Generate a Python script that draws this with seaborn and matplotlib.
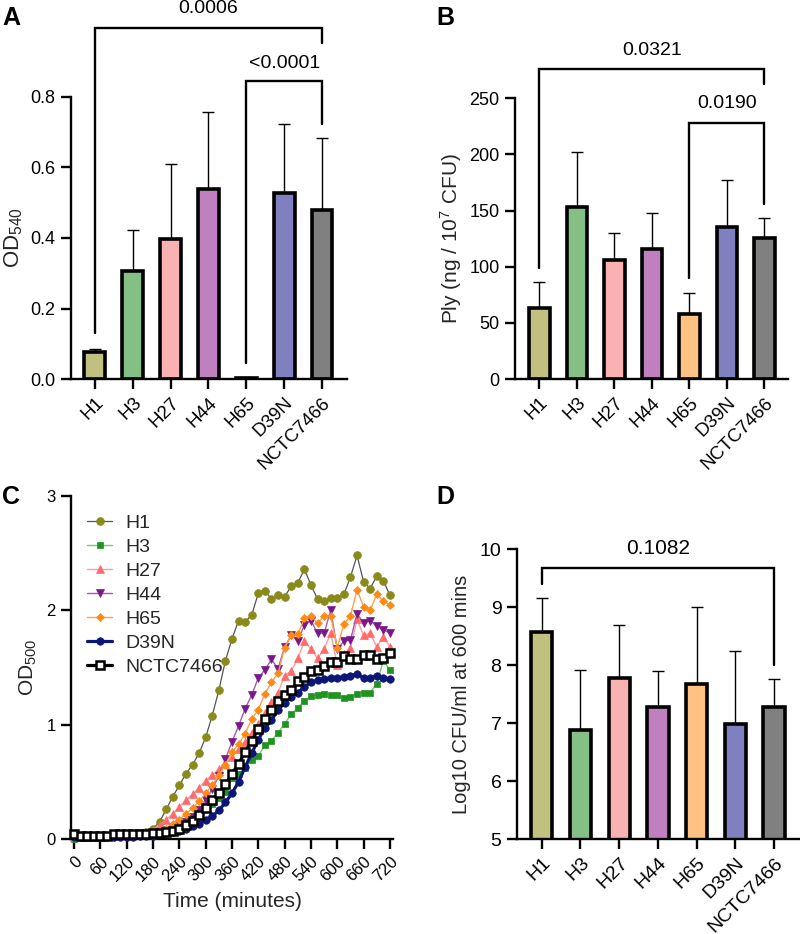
import numpy as np
import pandas as pd
import matplotlib
matplotlib.use("Agg")
import matplotlib.pyplot as plt
import seaborn as sns

# ---------------- data ----------------
strains = ["H1", "H3", "H27", "H44", "H65", "D39N", "NCTC7466"]
bar_colors = ["#c0c080", "#84c084", "#f9b1b1", "#c080c0", "#ffc283", "#8080c0", "#808080"]

od540_mean = [0.076, 0.305, 0.398, 0.538, 0.003, 0.527, 0.479]
od540_sd = [0.010, 0.117, 0.212, 0.220, 0.002, 0.195, 0.206]

ply_mean = [63, 153, 106, 116, 58, 135, 126]
ply_sd = [23, 49, 24, 32, 19, 42, 17]

cfu_mean = [8.58, 6.88, 7.78, 7.28, 7.68, 6.98, 7.28]
cfu_sd = [0.58, 1.03, 0.92, 0.62, 1.32, 1.27, 0.48]

time_min = list(range(0, 721, 15))

h1_od = [0.03, 0.03, 0.03, 0.03, 0.03, 0.03, 0.03, 0.04, 0.04, 0.04, 0.05, 0.06, 0.09,
         0.15, 0.26, 0.37, 0.47, 0.57, 0.65, 0.75, 0.89, 1.08, 1.30, 1.56, 1.75, 1.91,
         1.90, 1.96, 2.15, 2.17, 2.10, 2.13, 2.12, 2.21, 2.24, 2.36, 2.22, 2.10, 2.08,
         2.11, 2.11, 2.14, 2.29, 2.48, 2.25, 2.19, 2.30, 2.26, 2.13]
h3_od = [0.00, 0.01, 0.01, 0.02, 0.02, 0.02, 0.02, 0.03, 0.03, 0.03, 0.04, 0.05, 0.06,
         0.08, 0.09, 0.11, 0.13, 0.15, 0.17, 0.21, 0.27, 0.31, 0.36, 0.41, 0.53, 0.57,
         0.62, 0.69, 0.73, 0.82, 0.86, 0.93, 1.01, 1.09, 1.15, 1.21, 1.25, 1.26, 1.27,
         1.26, 1.26, 1.23, 1.24, 1.27, 1.28, 1.28, 1.36, 1.56, 1.48]
h27_od = [0.02, 0.02, 0.02, 0.02, 0.02, 0.03, 0.03, 0.03, 0.03, 0.04, 0.04, 0.05, 0.08,
          0.12, 0.17, 0.22, 0.28, 0.34, 0.39, 0.45, 0.51, 0.56, 0.61, 0.66, 0.72, 0.79,
          0.85, 0.93, 1.01, 1.10, 1.20, 1.28, 1.43, 1.47, 1.58, 1.73, 1.66, 1.58, 1.66,
          1.80, 1.52, 1.62, 1.67, 1.92, 1.78, 1.80, 1.68, 1.77, 1.68]
h44_od = [0.02, 0.02, 0.02, 0.02, 0.02, 0.02, 0.02, 0.03, 0.03, 0.03, 0.03, 0.04, 0.05,
          0.06, 0.07, 0.09, 0.12, 0.15, 0.19, 0.25, 0.34, 0.44, 0.55, 0.70, 0.85, 0.99,
          1.14, 1.26, 1.41, 1.48, 1.57, 1.49, 1.68, 1.78, 1.735, 1.87, 1.91, 1.80, 1.80,
          2.00, 1.66, 1.73, 1.74, 1.97, 1.89, 1.91, 1.86, 1.83, 1.80]
h65_od = [0.02, 0.02, 0.02, 0.02, 0.02, 0.02, 0.02, 0.03, 0.03, 0.03, 0.04, 0.05, 0.06,
          0.07, 0.09, 0.13, 0.17, 0.22, 0.27, 0.33, 0.40, 0.47, 0.56, 0.65, 0.76, 0.83,
          0.92, 1.05, 1.13, 1.27, 1.37, 1.45, 1.67, 1.78, 1.79, 1.93, 1.95, 1.89, 1.95,
          1.95, 1.67, 1.88, 1.95, 2.18, 2.03, 2.00, 2.14, 2.08, 2.05]
d39n_od = [0.02, 0.02, 0.02, 0.02, 0.02, 0.02, 0.02, 0.02, 0.02, 0.02, 0.03, 0.03, 0.03,
           0.04, 0.05, 0.06, 0.07, 0.09, 0.11, 0.13, 0.17, 0.20, 0.25, 0.32, 0.40, 0.50,
           0.63, 0.75, 0.87, 0.97, 1.04, 1.13, 1.19, 1.245, 1.28, 1.33, 1.37, 1.39, 1.40,
           1.41, 1.41, 1.42, 1.43, 1.44, 1.41, 1.41, 1.43, 1.41, 1.40]
nctc_od = [0.04, 0.03, 0.03, 0.03, 0.03, 0.03, 0.04, 0.04, 0.04, 0.04, 0.04, 0.04, 0.05,
           0.05, 0.06, 0.07, 0.09, 0.12, 0.16, 0.21, 0.27, 0.34, 0.40, 0.48, 0.57, 0.66,
           0.76, 0.86, 0.96, 1.05, 1.13, 1.21, 1.26, 1.30, 1.38, 1.42, 1.47, 1.48, 1.51,
           1.545, 1.55, 1.60, 1.575, 1.575, 1.61, 1.61, 1.57, 1.58, 1.63]

# ---------------- style ----------------
sns.set_theme(style="ticks")
plt.rcParams["font.family"] = ["Liberation Sans", "DejaVu Sans"]
plt.rcParams["mathtext.fontset"] = "custom"
plt.rcParams["mathtext.rm"] = "Liberation Sans"
plt.rcParams["mathtext.it"] = "Liberation Sans:italic"
plt.rcParams["mathtext.bf"] = "Liberation Sans:bold"

SPINE = 1.7
W, H = 800, 934

fig = plt.figure(figsize=(8, 9.34), dpi=100)
axA = fig.add_axes([71 / W, 1 - 379 / H, 276 / W, 282 / H])
axB = fig.add_axes([515 / W, 1 - 379 / H, 273 / W, 280.7 / H])
axC = fig.add_axes([71 / W, 1 - 839 / H, 322 / W, 343 / H])
axD = fig.add_axes([516.7 / W, 1 - 839 / H, 283.3 / W, 289.7 / H])


def style_axes(ax, fsx, fsy):
    sns.despine(ax=ax)
    for s in ("left", "bottom"):
        ax.spines[s].set_linewidth(SPINE)
        ax.spines[s].set_color("black")
    ax.tick_params(axis="both", width=SPINE, length=7.5, colors="black")
    ax.tick_params(axis="x", labelsize=fsx)
    ax.tick_params(axis="y", labelsize=fsy)


def bar_panel(ax, means, sds, ylim, yticks, fsx, fsy, xlim):
    df = pd.DataFrame({"strain": strains, "value": means})
    sns.barplot(data=df, x="strain", y="value", hue="strain",
                palette=dict(zip(strains, bar_colors)), dodge=False, legend=False,
                width=0.55, edgecolor="black", linewidth=2.6, errorbar=None,
                saturation=1, ax=ax)
    ax.errorbar(range(len(strains)), means,
                yerr=[np.zeros(len(strains)), sds], fmt="none", ecolor="black",
                elinewidth=1.0, capsize=4.5, capthick=1.0, zorder=0.5)
    ax.set_ylim(*ylim)
    ax.set_yticks(yticks)
    ax.set_xlim(*xlim)
    ax.set_xlabel("")
    style_axes(ax, fsx, fsy)
    for lab in ax.get_xticklabels():
        lab.set_rotation(45)
        lab.set_ha("right")
        lab.set_rotation_mode("anchor")


def bracket(ax, x1, x2, ytop, yl, yr, text, ytext, fs=14):
    ax.plot([x1, x1, x2, x2], [yl, ytop, ytop, yr], color="black", lw=1.7,
            clip_on=False, solid_joinstyle="miter")
    ax.text((x1 + x2) / 2, ytext, text, ha="center", va="center", fontsize=fs,
            color="black", clip_on=False)


# ---------------- panel A ----------------
bar_panel(axA, od540_mean, od540_sd, (0, 0.8), [0.0, 0.2, 0.4, 0.6, 0.8], 13.5, 13,
          (-0.63, 6.66))
axA.set_yticklabels(["0.0", "0.2", "0.4", "0.6", "0.8"])
axA.set_ylabel("OD$_{540}$", fontsize=16)
axA.yaxis.set_label_coords(-0.165, 0.5)
bracket(axA, 0, 6, 0.996, 0.13, 0.953, "0.0006", 1.05)
bracket(axA, 4, 6, 0.846, 0.045, 0.723, "<0.0001", 0.896)

# ---------------- panel B ----------------
bar_panel(axB, ply_mean, ply_sd, (0, 250), [0, 50, 100, 150, 200, 250], 13.5, 13,
          (-0.65, 6.63))
axB.set_ylabel("Ply (ng / 10$^{7}$ CFU)", fontsize=15)
axB.yaxis.set_label_coords(-0.185, 0.5)
bracket(axB, 0, 6, 276, 98.6, 262.5, "0.0321", 293)
bracket(axB, 4, 6, 228, 89.7, 156, "0.0190", 245)

# ---------------- panel C ----------------
series = [
    ("H1", h1_od, "#8a8a1a", "#555555", "o", 0.9, 5.6, None),
    ("H3", h3_od, "#1f931f", "#7ec47e", "s", 1.0, 5.0, None),
    ("H27", h27_od, "#ff6b6b", "#ff9d9d", "^", 1.0, 5.4, None),
    ("H44", h44_od, "#7a1789", "#a45ab2", "v", 1.0, 5.4, None),
    ("H65", h65_od, "#ff8a14", "#ffa04a", "D", 1.0, 4.0, None),
    ("D39N", d39n_od, "#0b1677", "#0b1677", "o", 2.3, 5.4, None),
    ("NCTC7466", nctc_od, "black", "black", "s", 2.3, 6.0, "white"),
]
for name, vals, mcol, lcol, mk, lw, ms, mfc in series:
    sns.lineplot(x=time_min, y=vals, ax=axC, color=lcol, linewidth=lw,
                 marker=mk, markersize=ms, markerfacecolor=mfc if mfc else mcol,
                 markeredgecolor=mcol, markeredgewidth=1.8 if mfc else 0.5,
                 label=name, clip_on=False, zorder=3)
axC.set_xlim(-7, 727)
axC.set_ylim(0, 3)
axC.set_xticks(list(range(0, 721, 60)))
axC.set_yticks([0, 1, 2, 3])
style_axes(axC, 12, 12)
for lab in axC.get_xticklabels():
    lab.set_rotation(45)
    lab.set_ha("right")
    lab.set_rotation_mode("anchor")
axC.set_ylabel("OD$_{500}$", fontsize=15)
axC.yaxis.set_label_coords(-0.1, 0.5)
axC.set_xlabel("Time (minutes)", fontsize=15)
axC.xaxis.set_label_coords(0.5, -0.155)
leg = axC.legend(loc="upper left", bbox_to_anchor=(0.05, 0.947), frameon=False,
                 fontsize=14, handlelength=1.3, handletextpad=0.65,
                 labelspacing=0.33, borderpad=0, borderaxespad=0)

# ---------------- panel D ----------------
bar_panel(axD, cfu_mean, cfu_sd, (5, 10), [5, 6, 7, 8, 9, 10], 14, 14,
          (-0.646, 6.67))
axD.set_ylabel("Log10 CFU/ml at 600 mins", fontsize=14.5)
axD.yaxis.set_label_coords(-0.16, 0.5)
bracket(axD, 0, 6, 9.68, 9.40, 8.0, "0.1082", 10.02, fs=15)

# ---------------- panel letters ----------------
for txt, x, y in [("A", 2, 18), ("B", 436, 18), ("C", 2, 497), ("D", 436, 497)]:
    fig.text(x / W, 1 - y / H, txt, fontsize=18, fontweight="bold",
             ha="left", va="center", color="black")

fig.savefig("out.png", dpi=100)
